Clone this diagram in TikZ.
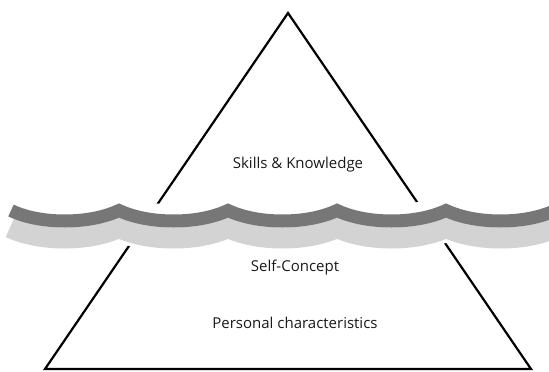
\documentclass[tikz,border=0pt]{standalone}
\usepackage{fontspec}
\setmainfont{Open Sans}
\usepackage{xcolor}
\usetikzlibrary{positioning,calc}
\definecolor{wavedark}{HTML}{777777}
\definecolor{wavelight}{HTML}{D3D3D3}
\definecolor{labeltext}{HTML}{1A1A1A}

\begin{document}
\begin{tikzpicture}[x = 1pt, y = -1pt,
  lbl/.style = {font = \fontsize{15}{18}\selectfont, text = labeltext},
  wave/.style = {line join = miter, line cap = butt}]
\useasboundingbox (0,0) rectangle (549,372);
\clip (0,0) rectangle (549,372);
\coordinate (apex) at (288,13);
\coordinate (baseL) at (45,369);
\coordinate (baseR) at (531,369);
\draw[line width = 2.2pt, line join = miter] (apex) -- (baseR) -- (baseL) -- cycle;
% the water line, drawn over the triangle
\draw[wave, white, line width = 47pt] (10,217.5)
  \foreach \i in {0,...,4} { .. controls ({10+109*\i+30},231.5) and ({10+109*\i+79},231.5) .. ({10+109*(\i+1)},217.5) };
\draw[wave, wavelight, line width = 21pt] (10,227.5)
  \foreach \i in {0,...,4} { .. controls ({10+109*\i+30},241.5) and ({10+109*\i+79},241.5) .. ({10+109*(\i+1)},227.5) };
\draw[wave, wavedark, line width = 13pt] (11,210.5)
  \foreach \i in {0,...,4} { .. controls ({10+109*\i+30},224.5) and ({10+109*\i+79},224.5) .. ({10+109*(\i+1)},210.5) };
\node[lbl] (skills) at (298,165) {Skills \& Knowledge};
\node[lbl] (self) at (295,268) {Self-Concept};
\node[lbl] (personal) at (295,323) {Personal characteristics};
\end{tikzpicture}
\end{document}
